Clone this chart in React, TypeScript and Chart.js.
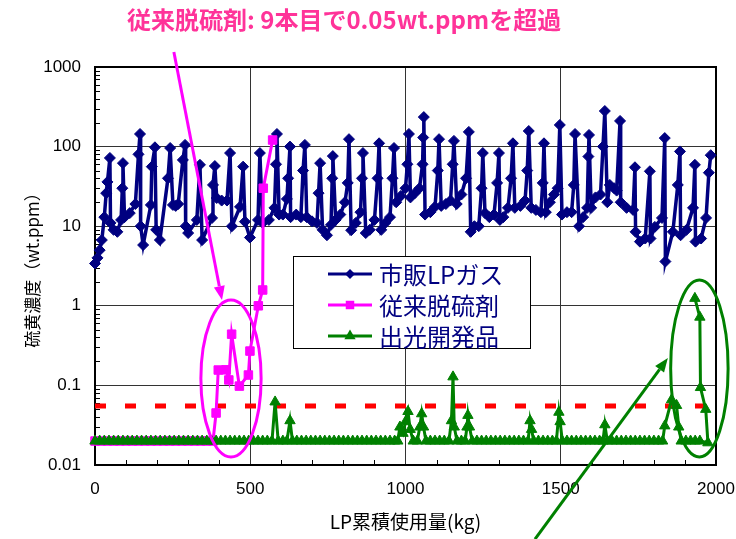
import React, { useEffect, useRef } from "react";
import { Chart, registerables } from "chart.js";

Chart.register(...registerables);

// ---------- text ----------
const SERIES_NAMES = ["市販LPガス", "従来脱硫剤", "出光開発品"];
const X_TITLE = "LP累積使用量(kg)";
const Y_TITLE = "硫黄濃度（wt.ppm）";
const NOTE_TEXT = "従来脱硫剤: 9本目で0.05wt.ppmを超過";

// ---------- axes ----------
const X_TICKS = [0, 500, 1000, 1500, 2000];
const Y_TICKS = [0.01, 0.1, 1, 10, 100, 1000];
const LIMIT_PPM = 0.055; // red dashed reference line
const LIMIT_SPAN = [0, 2000];

// ---------- series: [kg, wt.ppm] ----------
const lpGas: [number, number][] = [
  [0, 3.4], [8, 4], [15, 5], [22, 6.7], [30, 13], [36, 26], [40, 36], [48, 72],
  [50, 11], [60, 9], [72, 8.5], [84, 12], [88, 30], [90, 62],
  [95, 13], [112, 14.6], [130, 19], [140, 80], [145, 144],
  [147, 10], [155, 5.8], [180, 18.5], [183, 56], [193, 98],
  [197, 9], [209, 6.7], [235, 40], [242, 96],
  [251, 18.5], [260, 18], [268, 19], [283, 68], [290, 105],
  [292, 10], [300, 8.2], [328, 12], [338, 59],
  [345, 6.7], [377, 12.7], [380, 33], [386, 57],
  [392, 22.6], [408, 21], [425, 21], [435, 83],
  [441, 10], [467, 17.5], [477, 56],
  [483, 11.4], [499, 7.2], [525, 12], [531, 83],
  [540, 11], [560, 12], [578, 17], [583, 60], [586, 144],
  [593, 14], [605, 14], [618, 22], [622, 40], [628, 100],
  [630, 13], [648, 14], [663, 13], [670, 50], [676, 105],
  [682, 13], [699, 11.5], [715, 11], [720, 26], [725, 62],
  [733, 9], [747, 7.7], [760, 10.4], [764, 40], [766, 76],
  [775, 12], [790, 14], [805, 20], [814, 35], [818, 124],
  [825, 8.9], [840, 11], [855, 15], [860, 40], [863, 83],
  [872, 8.2], [885, 9], [900, 12], [910, 40], [915, 110],
  [922, 9], [935, 11], [950, 13], [958, 40], [963, 96],
  [970, 20], [985, 24], [1000, 30], [1006, 60], [1011, 144],
  [1016, 23], [1030, 26], [1045, 30], [1055, 60], [1057, 130], [1059, 235],
  [1063, 14], [1080, 15], [1095, 17.5], [1104, 50], [1108, 124],
  [1115, 18], [1130, 19], [1145, 21], [1152, 60], [1156, 118],
  [1165, 19], [1180, 25], [1195, 40], [1204, 153],
  [1210, 8.5], [1222, 10], [1236, 10], [1245, 30], [1249, 83],
  [1256, 14.6], [1270, 13], [1285, 14], [1295, 35], [1301, 83],
  [1304, 12], [1315, 13], [1330, 17], [1340, 40], [1346, 110],
  [1352, 17], [1370, 18], [1385, 21], [1392, 50], [1397, 157],
  [1405, 17], [1420, 16], [1436, 15], [1442, 35], [1446, 110],
  [1452, 15], [1465, 20], [1478, 25], [1490, 30], [1497, 187],
  [1504, 14], [1520, 15], [1535, 15], [1542, 33], [1546, 144],
  [1559, 10], [1572, 13], [1585, 17], [1589, 75], [1591, 140],
  [1598, 17], [1612, 23], [1628, 25], [1636, 100], [1642, 280],
  [1650, 20], [1658, 33], [1672, 30], [1680, 28], [1691, 210],
  [1693, 20], [1712, 17], [1733, 16], [1739, 55],
  [1741, 8.5], [1755, 6.4], [1772, 7], [1787, 49],
  [1789, 7], [1803, 9.8], [1826, 12.7], [1835, 128],
  [1837, 3.6], [1861, 8.5], [1877, 33], [1884, 87],
  [1886, 7.7], [1905, 9], [1926, 17], [1932, 59],
  [1934, 6.4], [1952, 7], [1968, 12.7], [1977, 47], [1983, 78],
];

const conventional: [number, number][] = [
  [0, 0.02], [20, 0.02], [40, 0.02], [60, 0.02], [80, 0.02], [100, 0.02],
  [120, 0.02], [140, 0.02], [160, 0.02], [180, 0.02], [200, 0.02], [220, 0.02],
  [240, 0.02], [260, 0.02], [280, 0.02], [300, 0.02], [320, 0.02], [340, 0.02],
  [360, 0.02], [380, 0.02],
  [390, 0.045], [397, 0.156], [422, 0.157], [431, 0.117], [440, 0.44],
  [465, 0.098], [494, 0.135], [499, 0.27], [526, 1.0], [540, 1.58],
  [542, 30], [572, 121],
];

const idemitsu: [number, number][] = [
  [0, 0.02], [15, 0.02], [30, 0.02], [45, 0.02], [60, 0.02], [75, 0.02], [90, 0.02],
  [105, 0.02], [120, 0.02], [135, 0.02], [150, 0.02], [165, 0.02], [180, 0.02],
  [195, 0.02], [210, 0.02], [225, 0.02], [240, 0.02], [255, 0.02], [270, 0.02],
  [285, 0.02], [300, 0.02], [315, 0.02], [330, 0.02], [345, 0.02], [360, 0.02],
  [375, 0.02], [390, 0.02], [405, 0.02], [420, 0.02], [435, 0.02], [450, 0.02],
  [465, 0.02], [480, 0.02], [495, 0.02], [510, 0.02], [525, 0.02], [540, 0.02],
  [555, 0.02], [570, 0.02],
  [580, 0.062], [590, 0.02], [605, 0.02], [618, 0.02], [628, 0.036], [636, 0.02],
  [650, 0.02], [665, 0.02], [680, 0.02], [695, 0.02], [710, 0.02], [725, 0.02],
  [740, 0.02], [755, 0.02], [770, 0.02], [785, 0.02], [800, 0.02], [815, 0.02],
  [830, 0.02], [845, 0.02], [860, 0.02], [875, 0.02], [890, 0.02], [905, 0.02],
  [920, 0.02], [935, 0.02], [950, 0.02], [965, 0.02],
  [975, 0.02], [982, 0.03], [992, 0.025], [1000, 0.035], [1008, 0.047], [1015, 0.028],
  [1025, 0.02], [1038, 0.02], [1046, 0.03], [1052, 0.044], [1058, 0.03], [1066, 0.02],
  [1080, 0.02], [1095, 0.02], [1110, 0.02], [1125, 0.02], [1140, 0.02],
  [1148, 0.036], [1153, 0.128], [1157, 0.03], [1166, 0.02], [1180, 0.02],
  [1192, 0.02], [1198, 0.03], [1201, 0.042], [1206, 0.03], [1215, 0.02],
  [1230, 0.02], [1245, 0.02], [1260, 0.02], [1275, 0.02], [1290, 0.02], [1305, 0.02],
  [1320, 0.02], [1335, 0.02], [1350, 0.02], [1365, 0.02], [1380, 0.02],
  [1395, 0.02], [1401, 0.036], [1406, 0.028], [1413, 0.02],
  [1428, 0.02], [1443, 0.02], [1458, 0.02], [1473, 0.02], [1486, 0.02],
  [1494, 0.046], [1498, 0.035], [1505, 0.02],
  [1520, 0.02], [1535, 0.02], [1550, 0.02], [1565, 0.02], [1580, 0.02], [1595, 0.02],
  [1610, 0.02], [1625, 0.02], [1636, 0.02], [1642, 0.032], [1650, 0.02],
  [1665, 0.02], [1680, 0.02], [1695, 0.02], [1710, 0.02], [1725, 0.02], [1740, 0.02],
  [1755, 0.02], [1770, 0.02], [1785, 0.02], [1800, 0.02], [1815, 0.02], [1828, 0.02],
  [1835, 0.031], [1857, 0.066], [1873, 0.056], [1880, 0.03], [1888, 0.02],
  [1903, 0.02], [1918, 0.02], [1933, 0.02], [1948, 0.02],
  [1974, 0.019], [1967, 0.05], [1950, 0.094], [1948, 0.72], [1932, 1.24],
];

// ---------- annotation shapes (data units) ----------
const convEllipse = { kg: [341, 535], ppm: [0.0126, 1.18] };
const idemEllipse = { kg: [1854, 2039], ppm: [0.0126, 2.11] };
const convArrow = { from: [254, 1540], to: [409, 1.18] };
const idemArrow = { from: [1417, 0.00117], to: [1845, 0.221] };

// ---------- styles ----------
const NAVY = "#000080";
const MAGENTA = "#FF00FF";
const GREEN = "#008000";
const RED = "#FF0000";
const NOTE_COLOR = "#FF3399";
const GRID = "#333333";
const CJK = '"Noto Sans CJK JP", "Noto Sans", sans-serif';
const NUM = '"Liberation Sans", Arial, sans-serif';

function drawMarker(ctx: CanvasRenderingContext2D, style: string, x: number, y: number, r: number) {
  ctx.beginPath();
  if (style === "rectRot") {
    ctx.moveTo(x - r, y); ctx.lineTo(x, y - r); ctx.lineTo(x + r, y); ctx.lineTo(x, y + r);
  } else if (style === "rect") {
    const s = Math.SQRT1_2 * r;
    ctx.rect(x - s, y - s, 2 * s, 2 * s);
  } else {
    ctx.moveTo(x, y - r);
    ctx.lineTo(x + 0.866 * r, y + 0.5 * r);
    ctx.lineTo(x - 0.866 * r, y + 0.5 * r);
  }
  ctx.closePath();
  ctx.fill();
}

function drawArrow(ctx: CanvasRenderingContext2D, x1: number, y1: number, x2: number, y2: number, color: string) {
  const ang = Math.atan2(y2 - y1, x2 - x1);
  const len = 14, hw = 5.5;
  const bx = x2 - Math.cos(ang) * len, by = y2 - Math.sin(ang) * len;
  ctx.strokeStyle = color; ctx.fillStyle = color; ctx.lineWidth = 3;
  ctx.beginPath(); ctx.moveTo(x1, y1); ctx.lineTo(bx, by); ctx.stroke();
  ctx.beginPath();
  ctx.moveTo(x2, y2);
  ctx.lineTo(bx + Math.sin(ang) * hw, by - Math.cos(ang) * hw);
  ctx.lineTo(bx - Math.sin(ang) * hw, by + Math.cos(ang) * hw);
  ctx.closePath(); ctx.fill();
}

const overlayPlugin = {
  id: "overlay",
  beforeDatasetsDraw(chart: any) {
    const { ctx, chartArea: a, scales } = chart;
    const x = scales.x, y = scales.y;
    ctx.save();
    ctx.strokeStyle = "#000"; ctx.lineWidth = 1;
    ctx.beginPath();
    for (let d = -2; d < 3; d++) {
      for (let m = 2; m <= 9; m++) {
        const py = Math.round(y.getPixelForValue(m * Math.pow(10, d))) + 0.5;
        ctx.moveTo(a.left, py); ctx.lineTo(a.left + 5, py);
      }
    }
    for (let v = 100; v < 2000; v += 100) {
      if (v % 500 === 0) continue;
      const px = Math.round(x.getPixelForValue(v)) + 0.5;
      ctx.moveTo(px, a.bottom); ctx.lineTo(px, a.bottom - 5);
    }
    ctx.stroke();
    ctx.lineWidth = 2;
    ctx.strokeRect(a.left, a.top, a.right - a.left, a.bottom - a.top);
    ctx.restore();
  },
  afterDatasetsDraw(chart: any) {
    const { ctx, scales } = chart;
    const x = scales.x, y = scales.y;
    ctx.save();
    const ell = (e: { kg: number[]; ppm: number[] }, color: string) => {
      const x1 = x.getPixelForValue(e.kg[0]), x2 = x.getPixelForValue(e.kg[1]);
      const y1 = y.getPixelForValue(e.ppm[1]), y2 = y.getPixelForValue(e.ppm[0]);
      ctx.strokeStyle = color; ctx.lineWidth = 3;
      ctx.beginPath();
      ctx.ellipse((x1 + x2) / 2, (y1 + y2) / 2, (x2 - x1) / 2, (y2 - y1) / 2, 0, 0, Math.PI * 2);
      ctx.stroke();
    };
    ell(convEllipse, MAGENTA);
    ell(idemEllipse, GREEN);
    const arr = (ar: { from: number[]; to: number[] }, color: string) => {
      drawArrow(ctx,
        x.getPixelForValue(ar.from[0]), y.getPixelForValue(ar.from[1]),
        x.getPixelForValue(ar.to[0]), y.getPixelForValue(ar.to[1]), color);
    };
    arr(convArrow, MAGENTA);
    arr(idemArrow, GREEN);
    ctx.restore();
  },
  afterDraw(chart: any) {
    const { ctx, chartArea: a } = chart;
    ctx.save();
    // legend
    const lx = a.left + 198, ly = a.top + 189, lw = 237, lh = 92;
    ctx.fillStyle = "#fff";
    ctx.fillRect(lx, ly, lw, lh);
    ctx.strokeStyle = "#000"; ctx.lineWidth = 1;
    ctx.strokeRect(lx + 0.5, ly + 0.5, lw, lh);
    const items = [
      { color: NAVY, style: "rectRot", r: 5 },
      { color: MAGENTA, style: "rect", r: 6 },
      { color: GREEN, style: "triangle", r: 6.5 },
    ];
    items.forEach((it, i) => {
      const cy = ly + 18 + i * 31;
      ctx.strokeStyle = it.color; ctx.fillStyle = it.color; ctx.lineWidth = 3;
      ctx.beginPath(); ctx.moveTo(lx + 35, cy); ctx.lineTo(lx + 79, cy); ctx.stroke();
      drawMarker(ctx, it.style, lx + 57, cy, it.r);
      ctx.fillStyle = NAVY;
      ctx.font = `24px ${CJK}`;
      ctx.textAlign = "left"; ctx.textBaseline = "middle";
      ctx.fillText(SERIES_NAMES[i], lx + 86, cy + 1);
    });
    // note text
    ctx.fillStyle = NOTE_COLOR;
    ctx.font = `bold 24px ${CJK}`;
    ctx.textAlign = "left"; ctx.textBaseline = "middle";
    ctx.fillText(NOTE_TEXT, 127, 20);
    ctx.restore();
  },
};

export default function App() {
  const ref = useRef<HTMLCanvasElement>(null);
  useEffect(() => {
    if (!ref.current) return;
    const toXY = (arr: [number, number][]) => arr.map(([kg, ppm]) => ({ x: kg, y: ppm }));
    const chart = new Chart(ref.current, {
      type: "line",
      data: {
        datasets: [
          {
            label: SERIES_NAMES[2], data: toXY(idemitsu), order: 0,
            borderColor: GREEN, backgroundColor: GREEN, borderWidth: 3,
            pointStyle: "triangle", pointRadius: 6, pointBorderWidth: 1, tension: 0, clip: false,
          },
          {
            label: SERIES_NAMES[1], data: toXY(conventional), order: 1,
            borderColor: MAGENTA, backgroundColor: MAGENTA, borderWidth: 3,
            pointStyle: "rect", pointRadius: 6, pointBorderWidth: 1, tension: 0, clip: false,
          },
          {
            label: SERIES_NAMES[0], data: toXY(lpGas), order: 2,
            borderColor: NAVY, backgroundColor: NAVY, borderWidth: 3.5,
            pointStyle: "rectRot", pointRadius: 5.5, pointBorderWidth: 1, tension: 0, clip: false,
          },
          {
            label: "limit", data: LIMIT_SPAN.map((kg) => ({ x: kg, y: LIMIT_PPM })), order: 3,
            borderColor: RED, borderWidth: 5, borderDash: [11, 19], borderCapStyle: "butt",
            pointRadius: 0, tension: 0,
          },
        ],
      } as any,
      options: {
        responsive: false,
        animation: false,
        devicePixelRatio: 1,
        events: [],
        layout: { padding: { top: 67, right: 20, bottom: 0, left: 0 } },
        plugins: { legend: { display: false }, tooltip: { enabled: false } },
        scales: {
          x: {
            type: "linear", min: 0, max: 2000,
            grid: { color: GRID, lineWidth: 1, drawTicks: false },
            border: { display: false },
            ticks: { color: "#000", font: { family: NUM, size: 17 }, padding: 14, maxRotation: 0, autoSkip: false, callback: (v: any) => String(v) },
            title: { display: true, text: X_TITLE, color: "#000", font: { family: CJK, size: 19 }, padding: { top: 0, bottom: 6 } },
            afterBuildTicks: (s: any) => { s.ticks = X_TICKS.map((v) => ({ value: v })); },
            afterFit: (s: any) => { s.height = 74; s.paddingLeft = 0; s.paddingRight = 0; },
          },
          y: {
            type: "logarithmic", min: 0.01, max: 1000,
            grid: { color: GRID, lineWidth: 1, drawTicks: false },
            border: { display: false },
            ticks: { color: "#000", font: { family: NUM, size: 17 }, padding: 14, autoSkip: false, callback: (v: any) => String(v) },
            title: { display: true, text: Y_TITLE, color: "#000", font: { family: CJK, size: 17 }, padding: { top: 22, bottom: 0 } },
            afterBuildTicks: (s: any) => { s.ticks = Y_TICKS.map((v) => ({ value: v })); },
            afterFit: (s: any) => { s.width = 95; s.paddingTop = 0; s.paddingBottom = 0; },
          },
        },
      } as any,
      plugins: [overlayPlugin],
    });
    return () => chart.destroy();
  }, []);
  return (
    <div style={{ position: "fixed", left: 0, top: 0, width: 736, height: 539, background: "#fff" }}>
      <canvas ref={ref} width={736} height={539} style={{ display: "block" }} />
    </div>
  );
}
